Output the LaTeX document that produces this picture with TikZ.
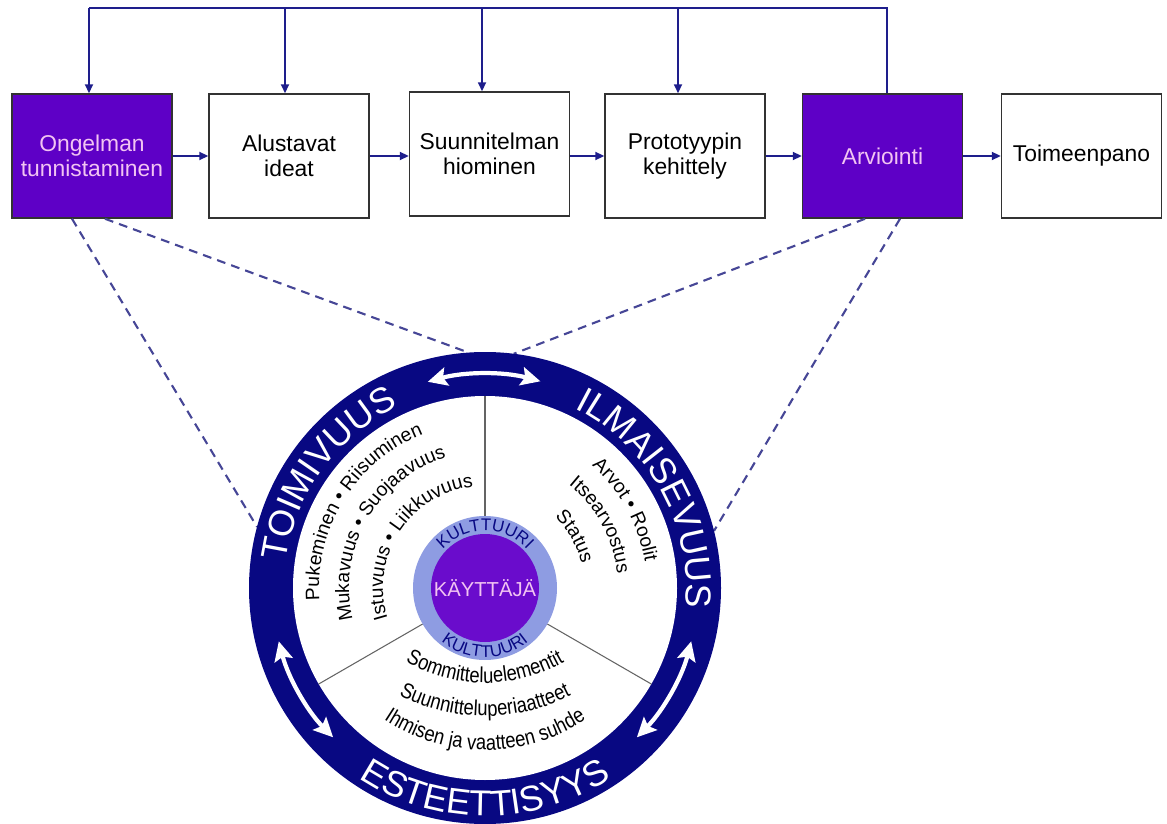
\documentclass[tikz,border=0pt]{standalone}
\usepackage{fontspec}
\setmainfont{Liberation Sans}
\newfontfamily\narrowsans{Liberation Sans}[FakeStretch=0.85]
\usetikzlibrary{arrows.meta,decorations.text,calc}
\definecolor{boxpurple}{RGB}{94,0,198}
\definecolor{pinktext}{RGB}{242,196,242}
\definecolor{navy}{RGB}{8,8,130}
\definecolor{linkblue}{RGB}{30,30,140}
\definecolor{dashblue}{RGB}{70,70,150}
\definecolor{lightring}{RGB}{142,156,226}
\definecolor{corepurple}{RGB}{106,12,204}
\definecolor{divgray}{RGB}{100,100,100}
\definecolor{boxedge}{RGB}{50,50,50}
\newcommand\ringfont{\fontsize{20.5}{24}\selectfont}
\newcommand\innerfont{\fontsize{11}{13}\selectfont}
\newcommand\bottomfont{\narrowsans\fontsize{12.3}{14}\selectfont}
\newcommand\culturefont{\fontsize{9.6}{11}\selectfont}
\begin{document}
\begin{tikzpicture}[x=0.02cm,y=0.02cm,
  stage/.style={draw=boxedge, line width=0.9pt, minimum width=3.2cm, minimum height=2.48cm,
    align=center, font=\fontsize{13}{14.5}\selectfont, inner sep=2pt},
  hot/.style={stage, fill=boxpurple, text=pinktext},
  plain/.style={stage, fill=white, text=black},
  link/.style={draw=linkblue, line width=1.1pt},
  linkarrow/.style={link, -{Triangle[length=5pt,width=4.5pt]}},
  dashlink/.style={draw=dashblue, line width=1.2pt, dash pattern=on 5pt off 3.5pt},
  dblarrow/.style={draw=white, line width=2.4pt,
    {Stealth[length=11pt,width=10.5pt,inset=2pt]}-{Stealth[length=11pt,width=10.5pt,inset=2pt]}},
  divider/.style={draw=divgray, line width=0.6pt},
  alongtext/.style={decorate, decoration={text along path, text align=center, text={#1}}}
]
\useasboundingbox (0,0) rectangle (1167,823);

% process boxes
\node[hot]   (b1) at (92,667)    {Ongelman\\tunnistaminen};
\node[plain] (b2) at (289,667)   {Alustavat\\ideat};
\node[plain] (b3) at (489.5,669) {Suunnitelman\\hiominen};
\node[plain] (b4) at (685,667)   {Prototyypin\\kehittely};
\node[hot]   (b5) at (882.5,667) {Arviointi};
\node[plain] (b6) at (1081.5,667){Toimeenpano};

\draw[linkarrow] (b1.east) -- (b2.west);
\draw[linkarrow] (b2.east) -- (b2.east -| b3.west);
\draw[linkarrow] (b3.east |- b4.west) -- (b4.west);
\draw[linkarrow] (b4.east) -- (b5.west);
\draw[linkarrow] (b5.east) -- (b6.west);

% feedback loop
\coordinate (f1) at (89,815);
\coordinate (f2) at (285,815);
\coordinate (f3) at (482,815);
\coordinate (f4) at (678,815);
\coordinate (f5) at (887,815);
\draw[link] (b5.north -| f5) -- (f5) -- (f1);
\draw[linkarrow] (f1) -- (f1 |- b1.north);
\draw[linkarrow] (f2) -- (f2 |- b2.north);
\draw[linkarrow] (f3) -- (f3 |- b3.north);
\draw[linkarrow] (f4) -- (f4 |- b4.north);

% circle centre
\coordinate (C) at (485,235);

% dashed zoom lines
\coordinate (s1) at (72,0);
\coordinate (s2) at (105,0);
\coordinate (s3) at (865,0);
\coordinate (s4) at (900,0);
\coordinate (e1) at ($(C)+(165:236)$);
\coordinate (e2) at ($(C)+(94:236)$);
\coordinate (e3) at ($(C)+(83:236)$);
\coordinate (e4) at ($(C)+(14:236)$);
\draw[dashlink] (b1.south -| s1) -- (e1);
\draw[dashlink] (b1.south -| s2) -- (e2);
\draw[dashlink] (b5.south -| s3) -- (e3);
\draw[dashlink] (b5.south -| s4) -- (e4);

% ring
\fill[navy] (C) circle[radius=236];
\fill[white] (C) circle[radius=192];

% sector dividers
\draw[divider] ($(C)+(90:72)$) -- ($(C)+(90:192)$);
\draw[divider] ($(C)+(210:72)$) -- ($(C)+(210:192)$);
\draw[divider] ($(C)+(330:72)$) -- ($(C)+(330:192)$);

% core
\fill[lightring] (C) circle[radius=72];
\fill[corepurple] (C) circle[radius=54];
\node[text=pinktext, font=\fontsize{11.5}{13}\selectfont] (user) at (C) {KÄYTTÄJÄ};
\path[alongtext={|\culturefont\color{navy}|KULTTUURI}]
  ($(C)+(155:57)$) arc[start angle=155, end angle=25, radius=57];
\path[alongtext={|\culturefont\color{navy}|KULTTUURI}]
  ($(C)+(205:69)$) arc[start angle=205, end angle=335, radius=69];

% ring labels
\path[alongtext={|\ringfont\color{white}|TOIMIVUUS}]
  ($(C)+(184:201)$) arc[start angle=184, end angle=104, radius=201];
\path[alongtext={|\ringfont\color{white}|ILMAISEVUUS}]
  ($(C)+(74:201)$) arc[start angle=74, end angle=-16, radius=201];
\path[alongtext={|\ringfont\color{white}|ESTEETTISYYS}]
  ($(C)+(225:228)$) arc[start angle=225, end angle=315, radius=228];

% white double arrows in ring
\draw[dblarrow] ($(C)+(105.5:214)$) arc[start angle=105.5, end angle=75, radius=214];
\draw[dblarrow] ($(C)+(194.5:213)$) arc[start angle=194.5, end angle=224.5, radius=213];
\draw[dblarrow] ($(C)+(345.5:213)$) arc[start angle=345.5, end angle=315.5, radius=213];

% left sector
\path[alongtext={|\innerfont|Pukeminen • Riisuminen}]
  ($(C)+(196:166)$) arc[start angle=196, end angle=100, radius=166];
\path[alongtext={|\innerfont|Mukavuus • Suojaavuus}]
  ($(C)+(205:136)$) arc[start angle=205, end angle=95, radius=136];
\path[alongtext={|\innerfont|Istuvuus • Liikkuvuus}]
  ($(C)+(210:102)$) arc[start angle=210, end angle=84, radius=102];

% right sector
\path[alongtext={|\innerfont|Arvot • Roolit}]
  ($(C)+(69:162)$) arc[start angle=69, end angle=-11, radius=162];
\path[alongtext={|\innerfont|Itsearvostus}]
  ($(C)+(68.6:133)$) arc[start angle=68.6, end angle=-11.4, radius=133];
\path[alongtext={|\innerfont|Status}]
  ($(C)+(69.7:99.5)$) arc[start angle=69.7, end angle=-10.3, radius=99.5];

% bottom sector
\coordinate (B1) at (485,300);
\coordinate (B2) at (485,297);
\coordinate (B3) at (485,256);
\path[alongtext={|\bottomfont|Sommitteluelementit}]
  ($(B1)+(230:160)$) arc[start angle=230, end angle=310, radius=160];
\path[alongtext={|\bottomfont|Suunnitteluperiaatteet}]
  ($(B2)+(235:190)$) arc[start angle=235, end angle=305, radius=190];
\path[alongtext={|\bottomfont|Ihmisen ja vaatteen suhde}]
  ($(B3)+(230:183)$) arc[start angle=230, end angle=310, radius=183];
\end{tikzpicture}
\end{document}
